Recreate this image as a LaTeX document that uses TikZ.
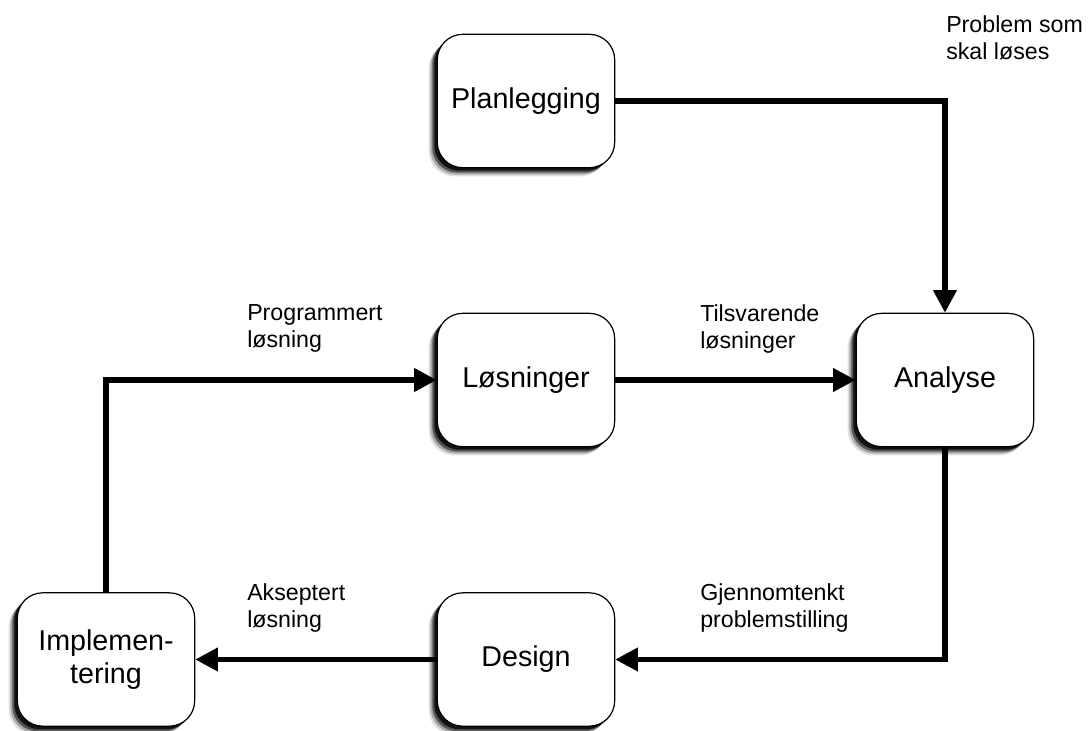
\documentclass[tikz,border=0pt]{standalone}
\usepackage{fontspec}
\setmainfont{Liberation Sans}
\usetikzlibrary{arrows.meta,shadows}
\begin{document}
\begin{tikzpicture}[x=0.75pt,y=-0.75pt,
  stage/.style={draw=black, line width=0.9pt, fill=white, rounded corners=19pt,
    minimum width=133pt, minimum height=100pt, align=center, inner sep=2pt,
    font=\fontsize{21.5}{25}\selectfont,
    drop shadow={shadow xshift=-6.5pt, shadow yshift=-6.5pt, fill=black, opacity=0.12},
    drop shadow={shadow xshift=-5.2pt, shadow yshift=-5.2pt, fill=black, opacity=0.25},
    drop shadow={shadow xshift=-3.8pt, shadow yshift=-3.8pt, fill=black, opacity=0.5},
    drop shadow={shadow xshift=-2.3pt, shadow yshift=-2.3pt, fill=black, opacity=0.8}},
  flow/.style={line width=3.9pt, -{Triangle[length=17pt,width=17pt]}},
  note/.style={align=left, anchor=north west, inner sep=0pt,
    font=\fontsize{17.4}{20.3}\selectfont}]
  \useasboundingbox (0,0) rectangle (1090,731);

  \node[stage] (plan) at (526,101) {Planlegging};
  \node[stage] (los)  at (526,380) {Løsninger};
  \node[stage] (ana)  at (945,380) {Analyse};
  \node[stage] (des)  at (526,659.5) {Design};
  \node[stage] (imp)  at (106,659.5) {Implemen-\\tering};

  \coordinate (c1) at (945,101);
  \coordinate (c2) at (945,659.5);
  \coordinate (c3) at (106,380);

  \draw[flow] (plan.east) -- (c1) -- (ana.north);
  \draw[flow] (los.east) -- (ana.west);
  \draw[flow] (ana.south) -- (c2) -- (des.east);
  \draw[flow] (des.west) -- (imp.east);
  \draw[flow] (imp.north) -- (c3) -- (los.west);

  \node[note] (n1) at (946,15) {Problem som\\skal løses};
  \node[note] (n2) at (247,304) {Programmert\\løsning};
  \node[note] (n3) at (700,304) {Tilsvarende\\løsninger};
  \node[note] (n4) at (700,583) {Gjennomtenkt\\problemstilling};
  \node[note] (n5) at (247,583) {Akseptert\\løsning};
\end{tikzpicture}
\end{document}
